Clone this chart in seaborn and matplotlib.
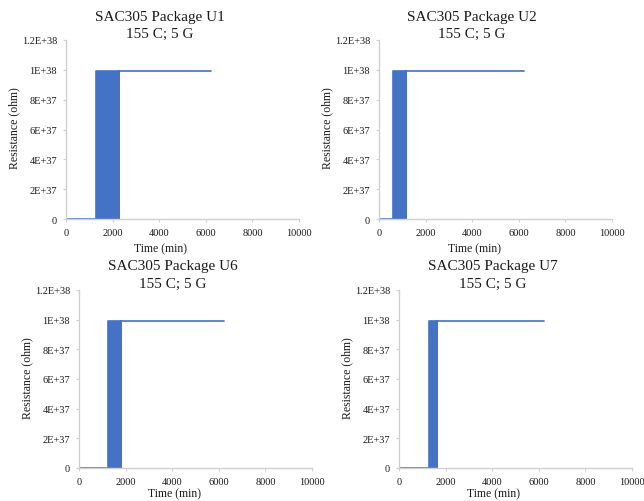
import matplotlib
matplotlib.use("Agg")
import matplotlib.pyplot as plt
import seaborn as sns
import pandas as pd

# Board-level drop/vibration test at 155 C, 5 G: daisy-chain resistance vs time
packages = ["U1", "U2", "U6", "U7"]
condition = "155 C; 5 G"
# minute at which intermittent opens begin, minute at which the chain stays open,
# and the last logged minute
intermittent_start = [1290, 590, 1230, 1300]
intermittent_end = [2260, 1160, 1790, 1645]
last_reading = [6210, 6220, 6235, 6220]
open_resistance = 9.9e37  # logger overflow value for an open circuit

x_ticks = [0, 2000, 4000, 6000, 8000, 10000]
x_tick_labels = ["0", "2000", "4000", "6000", "8000", "10000"]
y_ticks = [0, 2e37, 4e37, 6e37, 8e37, 1e38, 1.2e38]
y_tick_labels = ["0", "2E+37", "4E+37", "6E+37", "8E+37", "1E+38", "1.2E+38"]

LINE = "#4472C4"
SPINE = "#D0D0D0"
TEXT = "#1a1a1a"
W, H = 644, 502

sns.set_style("white")
plt.rcParams["font.family"] = ["Liberation Serif", "DejaVu Serif"]

fig = plt.figure(figsize=(W / 100, H / 100), dpi=100)

# panel boxes in pixels: left, right, top, bottom
boxes = [(66, 299, 41, 220), (379, 612, 41, 220),
         (79, 312, 291, 469), (399, 632, 291, 469)]
title_x = [160, 472, 173, 493]
xlabel_gap = [29, 29, 25, 25]


def fx(px):
    return px / W


def fy(py):
    return 1 - py / H


for i, name in enumerate(packages):
    left, right, top, bottom = boxes[i]
    ax = fig.add_axes([fx(left), fy(bottom), (right - left) / W, (bottom - top) / H])

    t0, t1, tend = intermittent_start[i], intermittent_end[i], last_reading[i]
    df = pd.DataFrame({
        "Time (min)": [0, t0, t0, t1, t1, t1, tend],
        "Resistance (ohm)": [0, 0, open_resistance, open_resistance, 0,
                             open_resistance, open_resistance],
    })
    sns.lineplot(data=df, x="Time (min)", y="Resistance (ohm)", ax=ax,
                 sort=False, estimator=None, color=LINE, linewidth=1.2)
    # intermittent opens toggle too fast to resolve: shade the window
    ax.fill_between([t0, t1], 0, open_resistance, color=LINE, linewidth=0)

    ax.set_xlim(0, 10000)
    ax.set_ylim(0, 1.2e38)
    ax.set_xticks(x_ticks)
    ax.set_xticklabels(x_tick_labels)
    ax.set_yticks(y_ticks)
    ax.set_yticklabels(y_tick_labels)
    ax.tick_params(axis="both", length=2.5, width=0.8, color=SPINE,
                   labelsize=7.5, labelcolor=TEXT, pad=4, direction="out")
    ax.tick_params(axis="both", which="both", bottom=True, left=True)
    for side in ("top", "right"):
        ax.spines[side].set_visible(False)
    for side in ("left", "bottom"):
        ax.spines[side].set_color(SPINE)
        ax.spines[side].set_linewidth(1.0)
    ax.set_xlabel("")
    ax.set_ylabel("")

    # titles and axis labels
    fig.text(fx(title_x[i]), fy(top - 24), f"SAC305 Package {name}",
             ha="center", va="center", fontsize=11, color=TEXT)
    fig.text(fx(title_x[i]), fy(top - 7), condition,
             ha="center", va="center", fontsize=11, color=TEXT)
    fig.text(fx(left + 95), fy(bottom + xlabel_gap[i]), "Time (min)",
             ha="center", va="center", fontsize=8.5, color=TEXT)
    fig.text(fx(left - 52), fy((top + bottom) / 2 - 2), "Resistance (ohm)",
             ha="center", va="center", rotation=90, fontsize=8.5, color=TEXT)

fig.savefig("out.png", dpi=100)
